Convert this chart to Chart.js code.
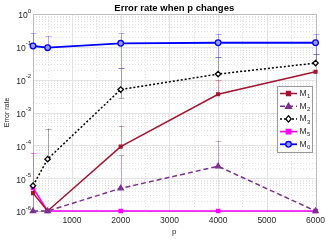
<!DOCTYPE html>
<html><head><meta charset="utf-8">
<script src="https://cdn.jsdelivr.net/npm/chart.js@4/dist/chart.umd.min.js"></script>
<style>html,body{margin:0;padding:0;background:#fff;}canvas{display:block;}</style>
</head><body>
<canvas id="c" width="330" height="248"></canvas>
<script>
// ---- data ----
const P = [200, 500, 2000, 4000, 6000];
const M1 = [3.5e-6, 1e-6, 9.1e-5, 3.6e-3, 1.74e-2];
const M2 = [1e-6, 1e-6, 4.9e-6, 2.3e-5, 1e-6];
const M3 = [5.9e-6, 3.8e-5, 5.0e-3, 1.48e-2, 3.2e-2];
const M5 = [5e-6, 1e-6, 1e-6, 1e-6, 1e-6];
const M0 = [0.106, 0.094, 0.128, 0.133, 0.133];
// error bar bounds (null = not visible)
const M1_hi = [null, null, 3.9e-4, 1.0e-2, null];
const M1_lo = [null, null, null, null, null];
const M2_hi = [null, null, 5e-5, 1.4e-4, null];
const M2_lo = [null, null, null, null, null];
const M3_hi = [null, 3.2e-4, 2.3e-2, 5e-2, 6e-2];
const M3_lo = [null, null, 2.8e-3, null, null];
const M5_hi = [6e-5, null, null, null, null];
const M5_lo = [null, null, null, null, null];
const M0_hi = [0.26, 0.21, 0.26, 0.25, 0.24];
const M0_lo = [null, null, 2.3e-2, 5e-2, 6e-2];
const X_TICKS = [1000, 2000, 3000, 4000, 5000, 6000];
const Y_EXPONENTS = [-6, -5, -4, -3, -2, -1, 0];
const LABELS = ['1', '2', '3', '5', '0'];
const TITLE = 'Error rate when p changes';
const Y_TITLE = 'Error rate';
const X_TITLE = 'p';

const FONT = '"Liberation Sans", Arial, sans-serif';
const TXT = '#262626';

function pts(arr){ return P.map((p,i)=>({x:p,y:arr[i]})); }

const series = [
  {label:LABELS[0], data:M1, hi:M1_hi, lo:M1_lo, color:'#a2142f', eb:'rgba(162,20,47,0.35)', style:'rect', r:2, bg:'#a2142f', dash:[], bw:1.5},
  {label:LABELS[1], data:M2, hi:M2_hi, lo:M2_lo, color:'#7e2f8e', eb:'rgba(126,47,142,0.35)', style:'triangle', r:3, bg:'#7e2f8e', dash:[5,3], bw:1.5},
  {label:LABELS[2], data:M3, hi:M3_hi, lo:M3_lo, color:'#000000', eb:'rgba(0,0,0,0.3)', style:'rectRot', r:2.7, bg:'#ffffff', dash:[2,2], bw:1.5},
  {label:LABELS[3], data:M5, hi:M5_hi, lo:M5_lo, color:'#ff00ff', eb:'rgba(255,0,255,0.45)', style:'rect', r:2.3, bg:'#ff00ff', dash:[], bw:1.6},
  {label:LABELS[4], data:M0, hi:M0_hi, lo:M0_lo, color:'#0000ff', eb:'rgba(60,60,255,0.4)', style:'circle', r:2.8, bg:'#9a9aff', dash:[], bw:1.8},
];

function drawMarker(ctx, s, x, y){
  ctx.save();
  ctx.setLineDash([]);
  ctx.lineWidth = 1.3;
  ctx.strokeStyle = s.color;
  ctx.fillStyle = s.bg;
  const r = s.r;
  ctx.beginPath();
  if (s.style==='rect'){ ctx.rect(x-r,y-r,2*r,2*r); }
  else if (s.style==='rectRot'){ ctx.moveTo(x,y-r-0.5); ctx.lineTo(x+r,y); ctx.lineTo(x,y+r+0.5); ctx.lineTo(x-r,y); ctx.closePath(); }
  else if (s.style==='triangle'){ ctx.moveTo(x,y-r); ctx.lineTo(x+r,y+r*0.7); ctx.lineTo(x-r,y+r*0.7); ctx.closePath(); }
  else { ctx.arc(x,y,r,0,Math.PI*2); }
  ctx.fill(); ctx.stroke();
  ctx.restore();
}

const customPlugin = {
  id:'custom',
  beforeDatasetsDraw(chart){
    const ctx = chart.ctx, xs = chart.scales.x, ys = chart.scales.y, a = chart.chartArea;
    ctx.save();
    // minor y grid
    ctx.lineWidth = 0.7;
    ctx.strokeStyle = '#d4d4d4';
    ctx.setLineDash([1,2]);
    for (let k=-6;k<0;k++){
      for (let m=2;m<=9;m++){
        const y = Math.round(ys.getPixelForValue(m*Math.pow(10,k)))+0.5;
        ctx.beginPath(); ctx.moveTo(a.left,y); ctx.lineTo(a.right,y); ctx.stroke();
      }
    }
    for (let v=500; v<6000; v+=1000){
      const x = Math.round(xs.getPixelForValue(v))+0.5;
      ctx.beginPath(); ctx.moveTo(x,a.top); ctx.lineTo(x,a.bottom); ctx.stroke();
    }
    // major grid
    ctx.setLineDash([]);
    ctx.strokeStyle = '#e3e3e3';
    ctx.lineWidth = 1;
    Y_EXPONENTS.forEach(k=>{
      const y = Math.round(ys.getPixelForValue(Math.pow(10,k)))+0.5;
      ctx.beginPath(); ctx.moveTo(a.left,y); ctx.lineTo(a.right,y); ctx.stroke();
    });
    X_TICKS.forEach(v=>{
      const x = Math.round(xs.getPixelForValue(v))+0.5;
      ctx.beginPath(); ctx.moveTo(x,a.top); ctx.lineTo(x,a.bottom); ctx.stroke();
    });
    // box
    ctx.strokeStyle = '#bdbdbd';
    ctx.strokeRect(Math.round(a.left)+0.5, Math.round(a.top)+0.5, Math.round(a.right-a.left), Math.round(a.bottom-a.top));
    // error bars
    series.forEach(s=>{
      ctx.strokeStyle = s.eb;
      ctx.lineWidth = 1;
      P.forEach((p,i)=>{
        const hi = s.hi[i], lo = s.lo[i];
        if (hi===null && lo===null) return;
        const x = Math.round(xs.getPixelForValue(p))+0.5;
        const yv = ys.getPixelForValue(s.data[i]);
        const yh = hi!==null ? ys.getPixelForValue(Math.min(hi,1)) : yv;
        const yl = lo!==null ? ys.getPixelForValue(Math.max(lo,1e-6)) : (hi!==null && s===series[3] ? a.bottom : yv);
        ctx.beginPath(); ctx.moveTo(x,yh); ctx.lineTo(x,yl); ctx.stroke();
        if (hi!==null){ ctx.beginPath(); ctx.moveTo(x-3,Math.round(yh)+0.5); ctx.lineTo(x+3,Math.round(yh)+0.5); ctx.stroke(); }
        if (lo!==null){ ctx.beginPath(); ctx.moveTo(x-3,Math.round(yl)+0.5); ctx.lineTo(x+3,Math.round(yl)+0.5); ctx.stroke(); }
      });
    });
    ctx.restore();
  },
  afterDraw(chart){
    const ctx = chart.ctx, xs = chart.scales.x, ys = chart.scales.y, a = chart.chartArea;
    ctx.save();
    ctx.fillStyle = '#000';
    // title
    ctx.font = 'bold 9.5px ' + FONT;
    ctx.textAlign = 'center'; ctx.textBaseline = 'middle';
    ctx.fillText(TITLE, (a.left+a.right)/2, 8);
    // y tick labels
    ctx.fillStyle = TXT;
    Y_EXPONENTS.forEach(k=>{
      const y = ys.getPixelForValue(Math.pow(10,k));
      const e = k===0 ? '0' : '-'+Math.abs(k);
      ctx.font = '6px ' + FONT;
      const ew = ctx.measureText(e).width;
      const right = a.left - 2;
      ctx.textAlign = 'left'; ctx.textBaseline = 'alphabetic';
      ctx.fillText(e, right-ew, y-1.5);
      ctx.font = '8.5px ' + FONT;
      ctx.textAlign = 'right'; ctx.textBaseline = 'middle';
      ctx.fillText('10', right-ew, y+2);
    });
    // y title
    ctx.save();
    ctx.translate(7, (a.top+a.bottom)/2);
    ctx.rotate(-Math.PI/2);
    ctx.font = '7px ' + FONT;
    ctx.textAlign='center'; ctx.textBaseline='middle';
    ctx.fillText(Y_TITLE, 0, 0);
    ctx.restore();
    // x title
    ctx.font = '8px ' + FONT;
    ctx.textAlign='center'; ctx.textBaseline='middle';
    ctx.fillText(X_TITLE, (a.left+a.right)/2, 232);
    // legend
    const bx = 277.5, by = 86.5, bw = 35, bh = 66;
    ctx.fillStyle = '#fff';
    ctx.fillRect(bx,by,bw,bh);
    ctx.strokeStyle = '#9a9a9a'; ctx.lineWidth = 1;
    ctx.strokeRect(bx,by,bw,bh);
    series.forEach((s,i)=>{
      const y = 93.5 + i*12.7;
      ctx.strokeStyle = s.color; ctx.lineWidth = s.bw;
      ctx.setLineDash(s.dash);
      ctx.beginPath(); ctx.moveTo(280,y); ctx.lineTo(297,y); ctx.stroke();
      ctx.setLineDash([]);
      drawMarker(ctx, s, 288.5, y);
      ctx.fillStyle = TXT;
      ctx.font = '8.5px ' + FONT;
      ctx.textAlign='left'; ctx.textBaseline='middle';
      ctx.fillText('M', 299.5, y);
      const mw = ctx.measureText('M').width;
      ctx.font = '6px ' + FONT;
      ctx.fillText(s.label, 299.5+mw+0.3, y+3);
    });
    ctx.restore();
  }
};

const chart = new Chart(document.getElementById('c'), {
  type:'line',
  data:{
    datasets: series.map((s,i)=>({
      label:'M'+s.label,
      data: pts(s.data),
      borderColor:s.color,
      backgroundColor:s.bg,
      borderWidth:s.bw,
      borderDash:s.dash,
      pointStyle:s.style,
      pointRadius:s.r,
      pointBackgroundColor:s.bg,
      pointBorderColor:s.color,
      pointBorderWidth:1.3,
      tension:0,
      clip:false,
      order: [2,1,3,4,0][i]
    }))
  },
  plugins:[customPlugin],
  options:{
    responsive:false,
    animation:false,
    devicePixelRatio:1,
    layout:{padding:{top:14,right:12,left:0,bottom:0}},
    plugins:{legend:{display:false},title:{display:false},tooltip:{enabled:false}},
    scales:{
      x:{
        type:'linear', min:200, max:6000,
        afterBuildTicks(sc){ sc.ticks = X_TICKS.map(v=>({value:v})); },
        afterFit(sc){ sc.height = 37; },
        grid:{display:false, drawTicks:false},
        border:{display:false},
        ticks:{font:{size:8.5,family:FONT}, color:TXT, padding:5, maxRotation:0, autoSkip:false,
               callback:(v)=>String(v)},
      },
      y:{
        type:'logarithmic', min:1e-6, max:1,
        afterFit(sc){ sc.width = 33; },
        grid:{display:false, drawTicks:false},
        border:{display:false},
        ticks:{display:false},
      }
    }
  }
});
</script>
</body></html>
